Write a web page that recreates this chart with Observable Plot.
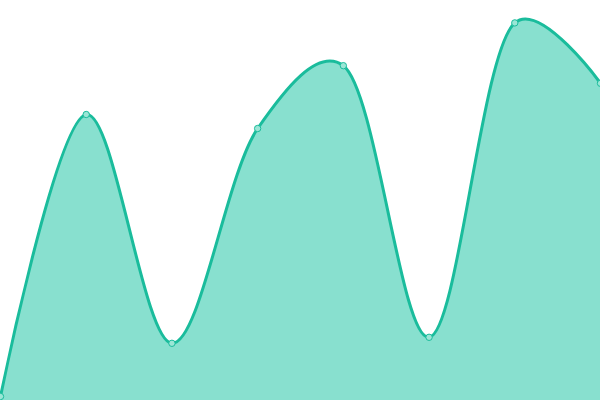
<!DOCTYPE html>
<html><head><meta charset="utf-8">
<script src="https://cdn.jsdelivr.net/npm/d3@7"></script>
<script src="https://cdn.jsdelivr.net/npm/@observablehq/plot@0.6"></script>
<style>body{margin:0;background:#fff}</style>
</head><body><div id="chart"></div>
<script>
const xs = [0, 1, 2, 3, 4, 5, 6, 7];
const values = [1, 71.5, 14.3, 68, 83.7, 15.8, 94.4, 79.3];
const data = xs.map((x, i) => ({x, y: values[i]}));
const curve = d3.curveCatmullRom.alpha(0.25);
const chart = Plot.plot({
  width: 600, height: 400,
  margin: 0,
  x: {domain: [0, 7], axis: null},
  y: {domain: [0, 100], axis: null},
  marks: [
    Plot.areaY(data, {x: "x", y: "y", curve, fill: "#88e0cf"}),
    Plot.lineY(data, {x: "x", y: "y", curve, stroke: "#1abc9c", strokeWidth: 3}),
    Plot.dot(data, {x: "x", y: "y", r: 3.2, fill: "#9be6d6", stroke: "#1abc9c", strokeWidth: 1})
  ]
});
document.getElementById("chart").append(chart);
</script></body></html>
